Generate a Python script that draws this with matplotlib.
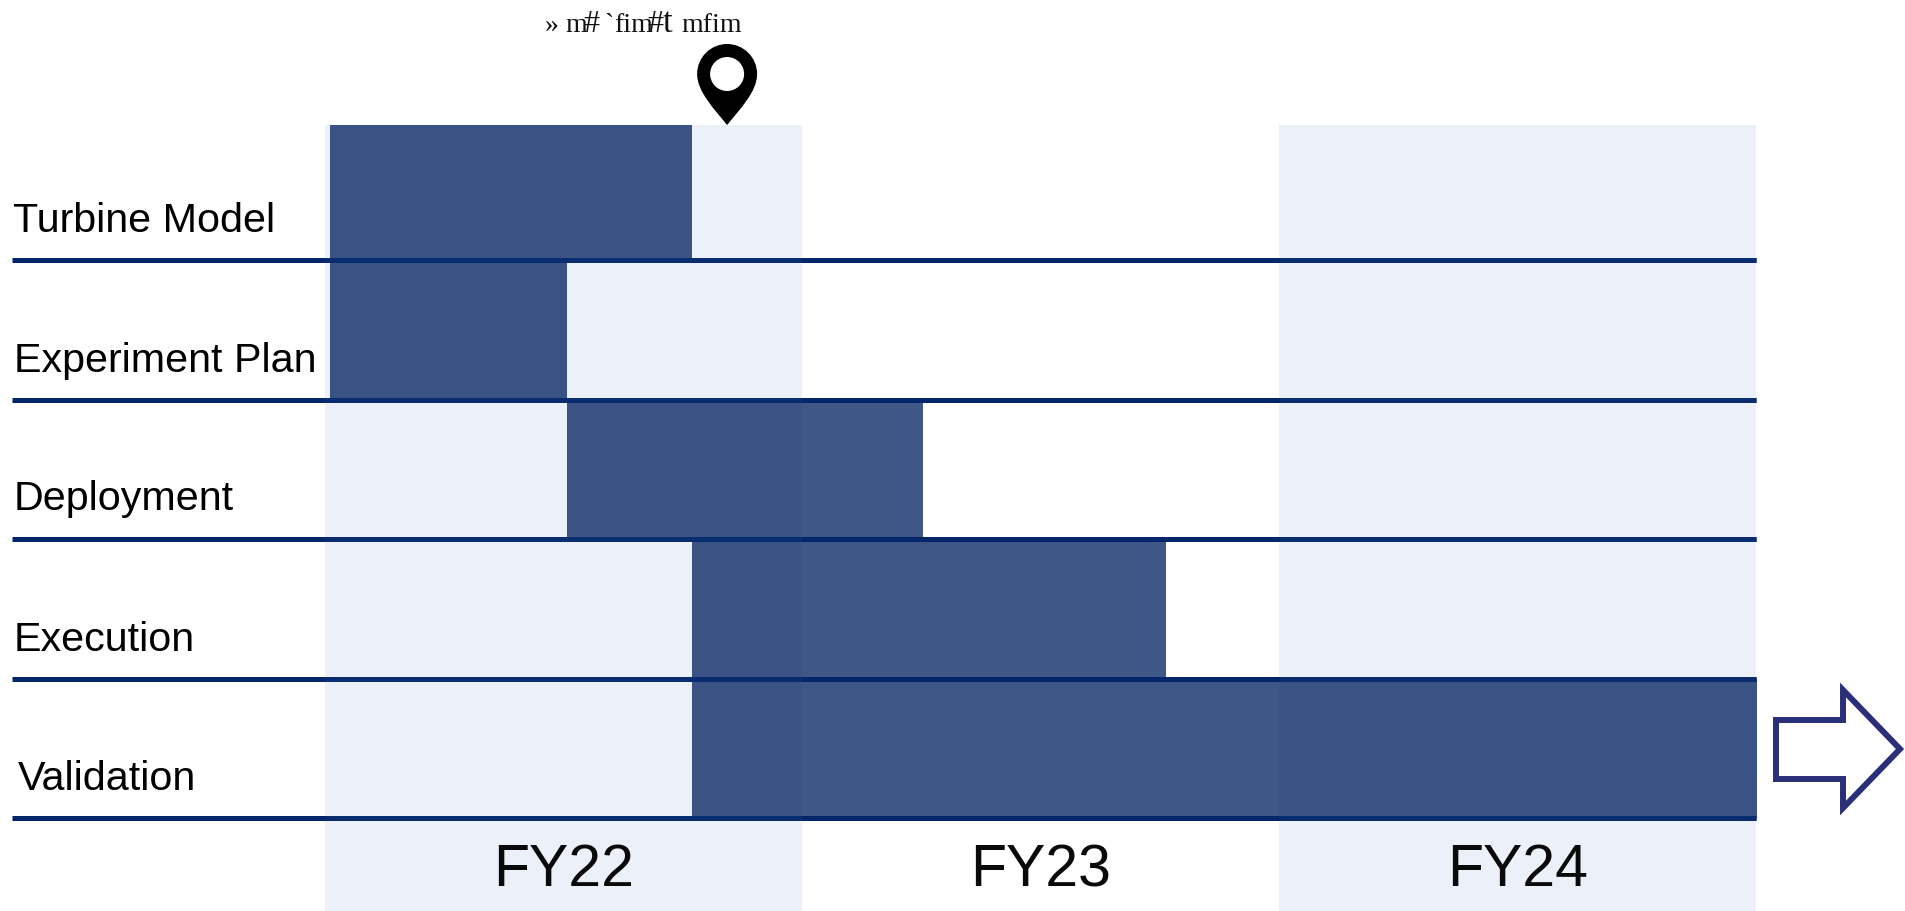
import matplotlib
matplotlib.use('Agg')
import numpy as np
from matplotlib import pyplot as plt
from matplotlib.patches import PathPatch
from matplotlib.path import Path
from matplotlib.transforms import Affine2D

W, H = 1905, 911

tasks = ['Turbine Model', 'Experiment Plan', 'Deployment', 'Execution', 'Validation']
# start / end of each task, in fiscal years counted from the start of FY22
task_start = [0.01, 0.01, 0.507, 0.77, 0.77]
task_end = [0.77, 0.508, 1.254, 1.764, 3.003]
years = ['FY22', 'FY23', 'FY24']
shaded_years = [0, 2]
milestone_x = 0.843
milestone_label = ['»', 'm', '#', '`', 'fim', '#', 't', 'mfim']

BAND = '#ecf0f9'
BAR = '#3a5384'
LINE = '#03256a'
LINE_BAND = '#0a2d70'
ARROW = '#2a2f78'

unit = 477.0
row_h = 139.5
top = 0.03

fig = plt.figure(figsize=(W / 100, H / 100), dpi=100)
ax = fig.add_axes([0, 0, 1, 1])
xlim = (-325 / unit, (W - 325) / unit)
ylim = (1 + (H - 260) / row_h, 1 - 260 / row_h)

# pixel coordinates, origin top left, for the annotations outside the schedule
px = Affine2D().scale(1, -1).translate(0, H)

plt.rcParams['font.family'] = ['Liberation Sans', 'DejaVu Sans']

for y in shaded_years:
    ax.bar(y, ylim[0] - top, width=1, bottom=top, align='edge', color=BAND, linewidth=0, zorder=1)

# rows touch the rule above them, only the first one stops at the top of the bands
for i in range(len(tasks)):
    row_top = top if i == 0 else i
    ax.bar(task_start[i], i + 1 - row_top, width=task_end[i] - task_start[i], bottom=row_top,
           align='edge', color=BAR, linewidth=0, zorder=2)

# bars read a touch lighter where they leave the shaded years
ax.bar(1, 5 - top, width=1, bottom=top, align='edge', color='white', alpha=0.025, linewidth=0, zorder=2.5)

for i in range(len(tasks)):
    ax.plot([-0.656, 3.0], [i + 1, i + 1], color=LINE, lw=3.6, solid_capstyle='butt', zorder=3)
    for y in shaded_years:
        ax.plot([y, y + 1], [i + 1, i + 1], color=LINE_BAND, lw=3.6, solid_capstyle='butt', zorder=3.1)

label_x = [13, 14, 14, 14, 18]
label_y = [232, 372, 510, 651, 790]
for name, x, y in zip(tasks, label_x, label_y):
    ax.text(x, y, name, transform=px, fontsize=29.7, va='baseline', ha='left', color='black', zorder=4)

for i, name in enumerate(years):
    ax.text(i + 0.5, 5.49, name, fontsize=42.5, ha='center', va='baseline', color='#0a0a0a', zorder=4)

ax.set_xlim(*xlim)
ax.set_ylim(*ylim)
ax.axis('off')

# milestone pin
head_y = 74
k = 0.5523
r = 30
pin = Path(
    [(0, 125), (-12, 110), (-30, 92), (-30, head_y),
     (-30, head_y - r * k), (-r * k, head_y - r), (0, head_y - r),
     (r * k, head_y - r), (30, head_y - r * k), (30, head_y),
     (30, 92), (12, 110), (0, 125), (0, 125)],
    [Path.MOVETO, Path.CURVE4, Path.CURVE4, Path.CURVE4,
     Path.CURVE4, Path.CURVE4, Path.CURVE4,
     Path.CURVE4, Path.CURVE4, Path.CURVE4,
     Path.CURVE4, Path.CURVE4, Path.CURVE4, Path.CLOSEPOLY])
# hole runs the other way round so it stays empty when filled
circle = Path.circle((0, head_y), 17)
ring = circle.vertices[:-1][::-1]
hole = Path(np.vstack([ring, ring[0]]), circle.codes)
pin_x = ax.transData.transform((milestone_x, 0))[0]
ax.add_patch(PathPatch(Path.make_compound_path(pin, hole),
                       transform=Affine2D().translate(pin_x, 0) + px,
                       fc='black', ec='none', zorder=5))

# milestone caption, glyphs overprint each other
cap_x = [545, 565, 583, 604, 614, 647, 663, 681]
cap_size = [20, 20, 23, 20, 20, 23, 25, 20]
for piece, x, size in zip(milestone_label, cap_x, cap_size):
    ax.text(x, 32, piece, transform=px, fontsize=size, family=['Liberation Serif', 'DejaVu Serif'],
            va='baseline', ha='left', color='#111111', zorder=5)

# "continues" arrow on the validation row
arrow = [(1776, 720), (1843, 720), (1843, 690), (1900, 749), (1843, 808), (1843, 779), (1776, 779)]
ax.add_patch(plt.Polygon(arrow, closed=True, transform=px, fc='white', ec=ARROW, lw=4.3,
                         joinstyle='miter', zorder=5))

fig.savefig('out.png', dpi=100)
